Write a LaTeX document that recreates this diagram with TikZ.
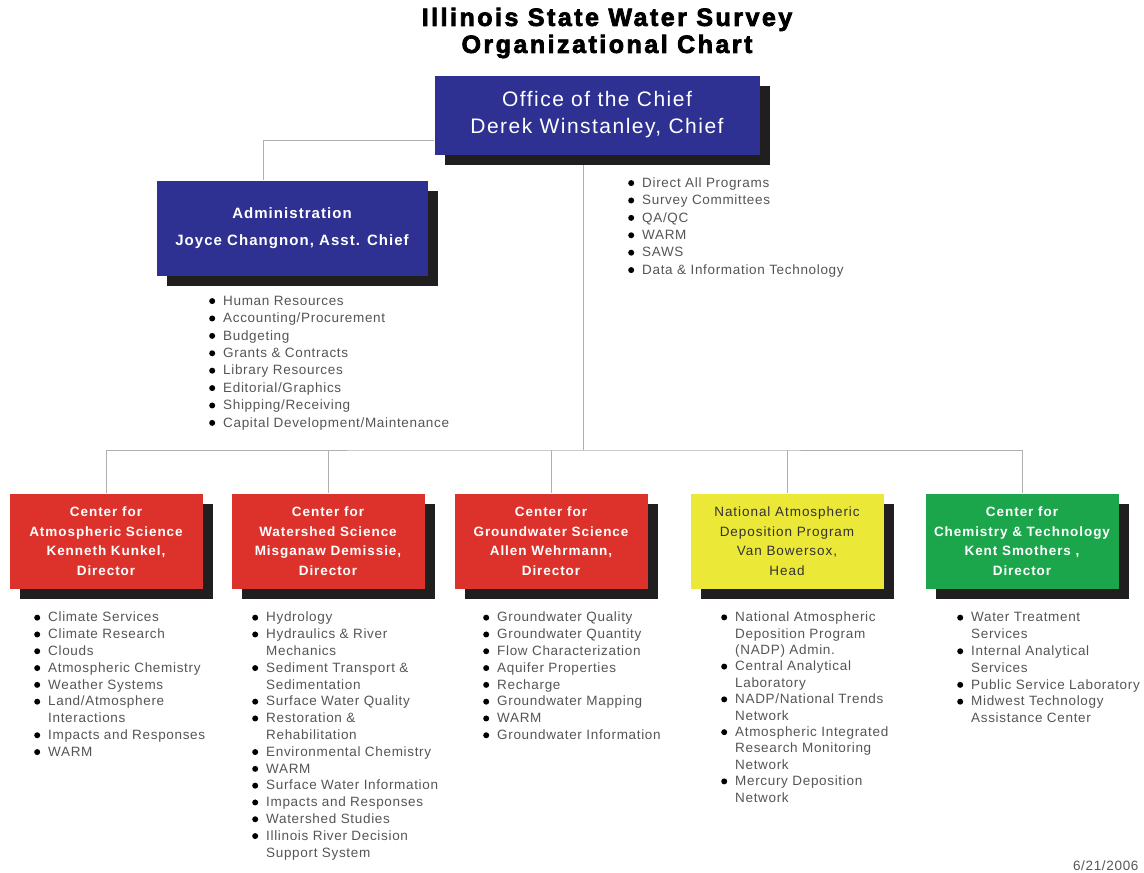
\documentclass[tikz,border=0pt]{standalone}
\usepackage{fontspec}
\setmainfont{Liberation Sans}[LetterSpace=5]
\newfontfamily\titlefont{Liberation Sans}[LetterSpace=10,BoldFeatures={FakeBold=3}]
\newfontfamily\boxfont{Liberation Sans}[LetterSpace=7]
\usetikzlibrary{calc,positioning,shadows,backgrounds}
\definecolor{chiefblue}{RGB}{46,49,146}
\definecolor{centerred}{RGB}{221,50,44}
\definecolor{nadpyellow}{RGB}{236,232,56}
\definecolor{chemgreen}{RGB}{28,166,76}
\definecolor{shade}{RGB}{32,30,30}
\definecolor{linkgray}{RGB}{175,175,175}
\definecolor{listgray}{RGB}{85,85,85}
\tikzset{
chart/.style={x=1pt,y=-1pt},
office/.style={rectangle,inner sep=2pt,align=center,text=white,
    drop shadow={shadow xshift=10pt,shadow yshift=-10pt,fill=shade,opacity=1}},
top office/.style={office,fill=chiefblue},
division/.style={office,minimum width=193pt,minimum height=95pt,
    font=\boxfont\bfseries\fontsize{13.5}{19.5}\selectfont},
duties/.style={inner sep=0pt,anchor=north west,text=listgray,
    font=\fontsize{13.5}{16.8}\selectfont},
link/.style={draw=linkgray,line width=1pt},
}
\newcommand{\itm}[1]{\tikz[baseline=-4.3pt]\fill[black] (0,0) circle (3pt);&#1\\}
\newcommand{\cnt}[1]{&#1\\}
\newenvironment{dutylist}{\begin{tabular}{@{}l@{\hspace{8pt}}l@{}}}{\end{tabular}}

\begin{document}
\begin{tikzpicture}[chart]
    \useasboundingbox (0,0) rectangle (1144,873);

    \node[font=\titlefont\bfseries\fontsize{25}{27}\selectfont,align=center]
        (title) at (607,33) {Illinois State Water Survey\\Organizational Chart};

    \node[top office,minimum width=325pt,minimum height=79pt,
        font=\boxfont\fontsize{21}{27}\selectfont] (chief) at (597,115)
        {Office of the Chief\\Derek Winstanley, Chief};
    \node[top office,minimum width=271pt,minimum height=95pt,
        font=\boxfont\bfseries\fontsize{15}{27}\selectfont] (admin) at (292,228)
        {Administration\\Joyce Changnon, Asst. Chief};

    \node[division,fill=centerred] (atmos) at (106,541)
        {Center for\\Atmospheric Science\\Kenneth Kunkel,\\Director};
    \node[division,fill=centerred] (watershed) at (328,541)
        {Center for\\Watershed Science\\Misganaw Demissie,\\Director};
    \node[division,fill=centerred] (ground) at (551,541)
        {Center for\\Groundwater Science\\Allen Wehrmann,\\Director};
    \node[division,fill=nadpyellow,text=black!80,font=\boxfont\fontsize{13.5}{19.5}\selectfont]
        (nadp) at (787,541)
        {National Atmospheric\\Deposition Program\\Van Bowersox,\\Head};
    \node[division,fill=chemgreen] (chemtech) at (1022,541)
        {Center for\\Chemistry \& Technology\\Kent Smothers ,\\Director};

    \coordinate (hub) at (583,450);
    \begin{scope}[on background layer]
        \draw[link] (chief.south -| hub) -- (hub);
        \draw[link] ([yshift=-25pt]chief.west) -| ([xshift=-29pt]admin.north);
        \draw[link] (atmos.north) |- (hub) -| (chemtech.north);
        \path[link]
            (watershed.north) edge (watershed.north |- hub)
            (ground.north) edge (ground.north |- hub)
            (nadp.north) edge (nadp.north |- hub);
    \end{scope}

    \node[duties,font=\fontsize{13.5}{17.4}\selectfont] (chieflist) at (628,175)
        {\begin{dutylist}
        \itm{Direct All Programs}
        \itm{Survey Committees}
        \itm{QA/QC}
        \itm{WARM}
        \itm{SAWS}
        \itm{Data \& Information Technology}
        \end{dutylist}};
    \node[duties,font=\fontsize{13.5}{17.4}\selectfont] (adminlist) at (209,293)
        {\begin{dutylist}
        \itm{Human Resources}
        \itm{Accounting/Procurement}
        \itm{Budgeting}
        \itm{Grants \& Contracts}
        \itm{Library Resources}
        \itm{Editorial/Graphics}
        \itm{Shipping/Receiving}
        \itm{Capital Development/Maintenance}
        \end{dutylist}};

    \node[duties] (atmoslist) at (34,610)
        {\begin{dutylist}
        \itm{Climate Services}
        \itm{Climate Research}
        \itm{Clouds}
        \itm{Atmospheric Chemistry}
        \itm{Weather Systems}
        \itm{Land/Atmosphere}
        \cnt{Interactions}
        \itm{Impacts and Responses}
        \itm{WARM}
        \end{dutylist}};
    \node[duties] (watershedlist) at (252,610)
        {\begin{dutylist}
        \itm{Hydrology}
        \itm{Hydraulics \& River}
        \cnt{Mechanics}
        \itm{Sediment Transport \&}
        \cnt{Sedimentation}
        \itm{Surface Water Quality}
        \itm{Restoration \&}
        \cnt{Rehabilitation}
        \itm{Environmental Chemistry}
        \itm{WARM}
        \itm{Surface Water Information}
        \itm{Impacts and Responses}
        \itm{Watershed Studies}
        \itm{Illinois River Decision}
        \cnt{Support System}
        \end{dutylist}};
    \node[duties] (groundlist) at (483,610)
        {\begin{dutylist}
        \itm{Groundwater Quality}
        \itm{Groundwater Quantity}
        \itm{Flow Characterization}
        \itm{Aquifer Properties}
        \itm{Recharge}
        \itm{Groundwater Mapping}
        \itm{WARM}
        \itm{Groundwater Information}
        \end{dutylist}};
    \node[duties,font=\fontsize{13.5}{16.4}\selectfont] (nadplist) at (721,610)
        {\begin{dutylist}
        \itm{National Atmospheric}
        \cnt{Deposition Program}
        \cnt{(NADP) Admin.}
        \itm{Central Analytical}
        \cnt{Laboratory}
        \itm{NADP/National Trends}
        \cnt{Network}
        \itm{Atmospheric Integrated}
        \cnt{Research Monitoring}
        \cnt{Network}
        \itm{Mercury Deposition}
        \cnt{Network}
        \end{dutylist}};
    \node[duties] (chemlist) at (957,610)
        {\begin{dutylist}
        \itm{Water Treatment}
        \cnt{Services}
        \itm{Internal Analytical}
        \cnt{Services}
        \itm{Public Service Laboratory}
        \itm{Midwest Technology}
        \cnt{Assistance Center}
        \end{dutylist}};

    \node[anchor=east,text=listgray,font=\fontsize{13.5}{16}\selectfont]
        (date) at (1142,866) {6/21/2006};
\end{tikzpicture}
\end{document}
